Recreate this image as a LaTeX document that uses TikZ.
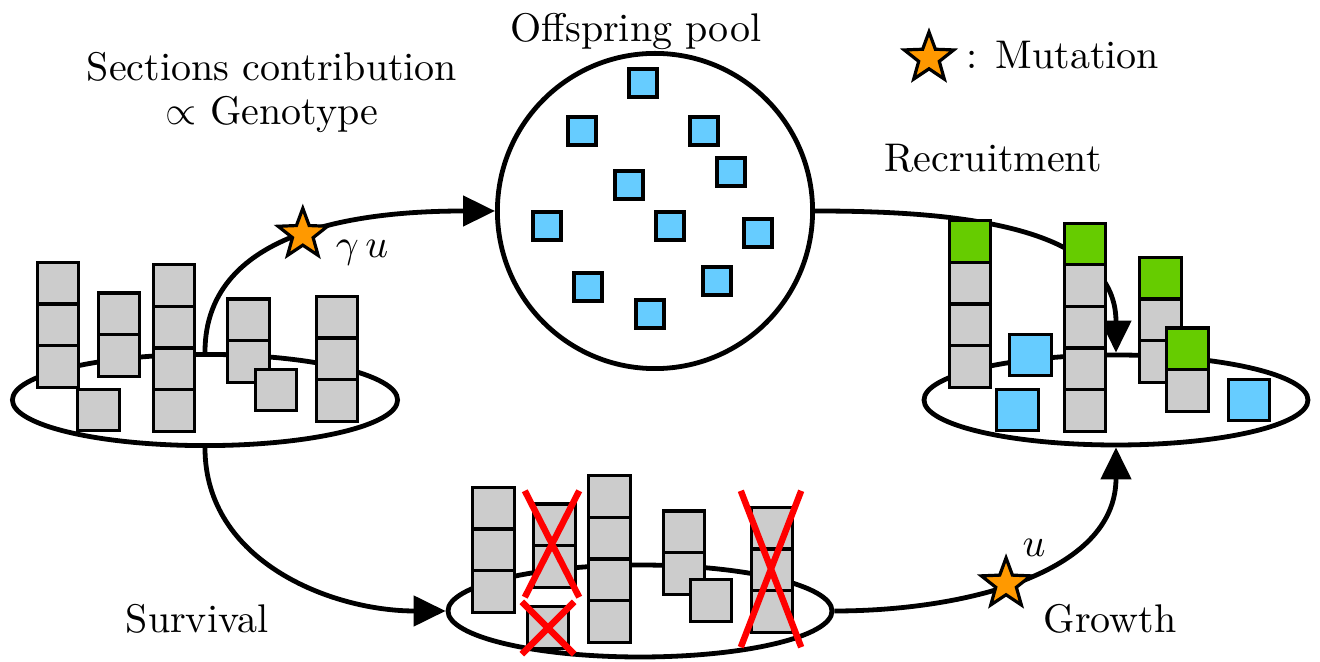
\documentclass[tikz,border=0pt]{standalone}
\usepackage{amsmath,amssymb}
\usepackage{xcolor}
\usepackage{tikz}
\usetikzlibrary{arrows.meta,shapes.geometric,shapes.misc}
\definecolor{cellgray}{RGB}{204,204,204}
\definecolor{poolblue}{RGB}{102,204,255}
\definecolor{newgreen}{RGB}{102,204,0}
\definecolor{mutorange}{RGB}{255,153,0}
\tikzset{
  blk/.style    ={draw,line width=0.8pt,minimum size=10.4pt,inner sep=0pt,fill=cellgray},
  young/.style  ={blk,fill=poolblue},
  recruit/.style={blk,fill=newgreen},
  seed/.style   ={young,minimum size=7pt},
  patch/.style  ={ellipse,draw,line width=1.2pt,inner sep=0pt},
  pool/.style   ={circle,draw,line width=1.2pt,inner sep=0pt,minimum size=78.8pt},
  flow/.style   ={-{Triangle[length=8pt,width=7.5pt]},line width=1.2pt},
  mut/.style    ={star,star points=5,star point ratio=2.4,draw,fill=mutorange,line width=0.8pt,minimum size=13pt,inner sep=0pt},
  dead/.style   ={cross out,draw=red,line width=1.6pt,inner sep=0pt},
  lbl/.style    ={anchor=base,inner sep=0pt},
}

\begin{document}
\begin{tikzpicture}[x=0.25pt,y=-0.25pt]
  \useasboundingbox (0,0) rectangle (1320,662);
  % patches and the offspring pool
  \node[patch,minimum width=96.3pt,minimum height=22.8pt] (adults) at (205,400) {};
  \node[patch,minimum width=96pt,minimum height=23pt] (survivors) at (640,611) {};
  \node[patch,minimum width=96pt,minimum height=22.5pt] (recruits) at (1116,400) {};
  \node[pool] (pool) at (655,211) {};

  % flows between the stages
  \draw[flow] (adults.north) to[out=90,in=180] node[mut,pos=0.5] (mutA) {} (pool.west);
  \draw[flow] (pool.east) to[out=0,in=90] (recruits.north);
  \draw[flow] (adults.south) to[out=-90,in=180] (survivors.west);
  \draw[flow] (survivors.east) to[out=0,in=-90] node[mut,pos=0.45] (mutB) {} (recruits.south);

  % adult columns
  \foreach \x/\y/\n [count=\s] in {58/366.5/3, 98.5/410/1, 119/355.5/2, 174/410.5/4,
                                   248.5/361.5/2, 276/390/1, 337/400.5/3}
    \foreach \k in {1,...,\n}
      \node[blk] (a\s-\k) at (\x,\y-41.6*\k+41.6) {};

  % offspring
  \foreach \x/\y [count=\s] in {643/83, 582/131, 704/131, 731/172, 629/185, 547/226,
                                670/226, 758/233, 588/287, 717/281, 650/314}
    \node[seed] (o\s) at (\x,\y) {};

  % survivors, some of them dead
  \foreach \x/\y/\n [count=\s] in {493.5/591.5/3, 554.5/566.5/2, 548/627.5/1, 609.5/621.5/4,
                                   684/573.5/2, 711/600.5/1, 772/611.5/3}
    \foreach \k in {1,...,\n}
      \node[blk] (s\s-\k) at (\x,\y-41.6*\k+41.6) {};
  \node[dead,minimum width=12pt,minimum height=25pt] (kill1) at (552,544) {};
  \node[dead,minimum width=11.5pt,minimum height=11.5pt] (kill2) at (548,628) {};
  \node[dead,minimum width=13.5pt,minimum height=37.5pt] (kill3) at (771,569) {};

  % recruited columns: grown sections on top
  \foreach \x/\y/\n [count=\s] in {970/366.5/4, 1085/410.5/5, 1160.5/361.5/3, 1187.5/390.5/2}{
    \pgfmathtruncatemacro{\m}{\n-1}
    \foreach \k in {1,...,\m}
      \node[blk] (r\s-\k) at (\x,\y-41.6*\k+41.6) {};
    \node[recruit] (r\s-top) at (\x,\y-41.6*\n+41.6) {};
  }
  \node[young] (new1) at (1030.5,355) {};
  \node[young] (new2) at (1017.5,410) {};
  \node[young] (new3) at (1249,400) {};

  % labels
  \node[lbl] (poolname) at (636,42) {Offspring pool};
  \node[inner sep=0pt,anchor=north,align=center] (contrib) at (272,52)
    {Sections contribution\\[-1pt]$\propto$ Genotype};
  \node[lbl] (recname) at (993,172) {Recruitment};
  \node[lbl] (survname) at (197,633) {Survival};
  \node[lbl] (growname) at (1110,633) {Growth};
  \node[lbl] (gu) at (362,258) {$\gamma\,u$};
  \node[lbl] (uu) at (1034,557) {$u$};
  \node[mut] (legstar) at (929,58) {};
  \node[lbl,anchor=base west] (legtxt) at (966,69) {: Mutation};
\end{tikzpicture}
\end{document}
